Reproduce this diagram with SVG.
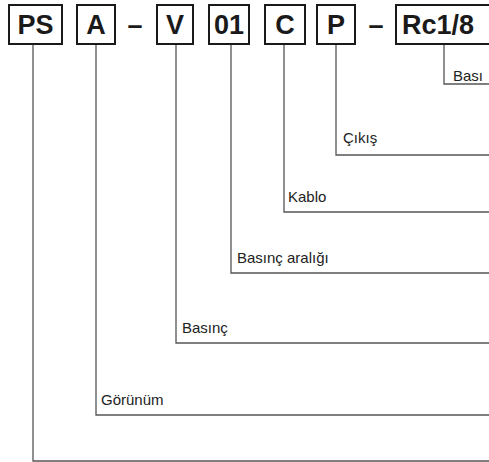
<svg xmlns="http://www.w3.org/2000/svg" width="489" height="462" viewBox="0 0 489 462">
<style>
.box{fill:#fff;stroke:#1a1a1a;stroke-width:2}
.code{font-family:"Liberation Sans",Arial,sans-serif;font-weight:bold;font-size:27px;fill:#1a1a1a;text-anchor:middle}
.dash{font-family:"Liberation Sans",Arial,sans-serif;font-weight:bold;font-size:27px;fill:#1a1a1a;text-anchor:middle}
.lbl{font-family:"Liberation Sans",Arial,sans-serif;font-size:15px;fill:#222}
.conn{fill:none;stroke:#555;stroke-width:1.3}
</style>
<rect width="489" height="462" fill="#fff"/>
<g id="connectors">
<polyline class="conn" points="33,45 33,461 489,461"/>
<polyline class="conn" points="96,45 96,415 489,415"/>
<polyline class="conn" points="176,45 176,343 489,343"/>
<polyline class="conn" points="231,45 231,273 489,273"/>
<polyline class="conn" points="284,45 284,212 489,212"/>
<polyline class="conn" points="336,45 336,155 489,155"/>
<polyline class="conn" points="444,45 444,84 489,84"/>
</g>
<g id="node-PS"><rect class="box" x="9" y="5" width="53" height="39"/><text class="code" x="35.5" y="34">PS</text></g>
<g id="node-A"><rect class="box" x="77" y="5" width="38" height="39"/><text class="code" x="96" y="34">A</text></g>
<text class="dash" x="135" y="34">–</text>
<g id="node-V"><rect class="box" x="157" y="5" width="36" height="39"/><text class="code" x="175" y="34">V</text></g>
<g id="node-01"><rect class="box" x="209" y="5" width="40" height="39"/><text class="code" x="229" y="34">01</text></g>
<g id="node-C"><rect class="box" x="265" y="5" width="40" height="39"/><text class="code" x="285" y="34">C</text></g>
<g id="node-P"><rect class="box" x="317" y="5" width="38" height="39"/><text class="code" x="336" y="34">P</text></g>
<text class="dash" x="376" y="34">–</text>
<g id="node-Rc18"><rect class="box" x="396" y="5" width="100" height="39"/><text class="code" x="402" y="34" style="text-anchor:start">Rc1/8</text></g>
<g id="labels">
<text class="lbl" x="453" y="81">Bası</text>
<text class="lbl" x="343" y="143">Çıkış</text>
<text class="lbl" x="288" y="202">Kablo</text>
<text class="lbl" x="237" y="263">Basınç aralığı</text>
<text class="lbl" x="182" y="333">Basınç</text>
<text class="lbl" x="101" y="405">Görünüm</text>
</g>
</svg>
